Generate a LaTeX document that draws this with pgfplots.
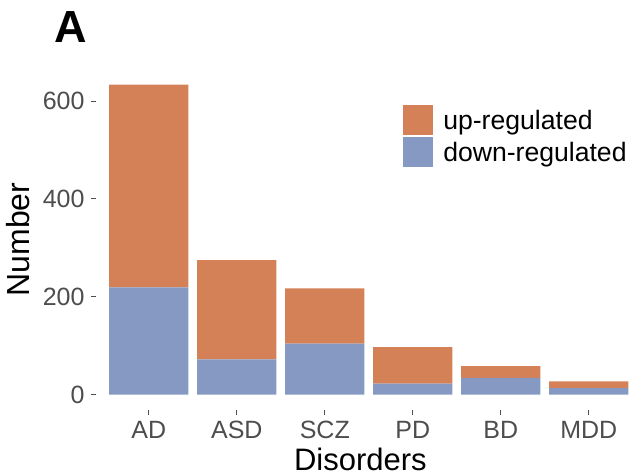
\documentclass[border=0pt]{standalone}
\usepackage{fontspec}
\setmainfont{Liberation Sans}
\usepackage{pgfplots}
\pgfplotsset{compat=1.18}
\definecolor{upc}{RGB}{212,129,88}
\definecolor{downc}{RGB}{134,153,194}
\definecolor{tickgray}{RGB}{77,77,77}
\begin{document}
\begin{tikzpicture}
\path[use as bounding box] (0,0) rectangle (634bp,476bp);
\begin{axis}[
  at={(96bp,66bp)}, anchor=south west,
  scale only axis,
  width=536.8bp, height=341bp,
  ybar stacked,
  bar width=0.9,
  xmin=-0.6, xmax=5.5,
  ymin=-31.7, ymax=665.7,
  xtick={0,1,2,3,4,5},
  xticklabels={AD,ASD,SCZ,PD,BD,MDD},
  ytick={0,200,400,600},
  axis line style={draw=none},
  tick pos=left,
  tick align=outside,
  major tick length=5bp,
  tick style={draw=tickgray, line width=1.1bp},
  /pgf/number format/assume math mode=true,
  ticklabel style={font=\fontsize{25bp}{30bp}\selectfont, text=tickgray},
  xticklabel style={yshift=-3bp},
  yticklabel style={xshift=-3bp},
  xlabel={Disorders},
  ylabel={Number},
  label style={font=\fontsize{32bp}{38bp}\selectfont},
  xlabel style={font=\fontsize{31bp}{36bp}\selectfont, inner sep=0pt, yshift=-5bp, xshift=-4bp},
  ylabel style={yshift=6bp},
  reverse legend,
  legend cell align=left,
  legend style={draw=none, fill=none, at={(0.572,0.894)}, anchor=north west,
    font=\fontsize{26.6bp}{31bp}\selectfont, row sep=2bp, inner sep=0pt,
    nodes={inner xsep=10bp}},
  legend image code/.code={\fill[#1] (0bp,-15bp) rectangle (30bp,15bp);},
]
\addplot[fill=downc, draw=none] coordinates {(0,219) (1,72) (2,104) (3,22) (4,34) (5,13)};
\addlegendentry{down-regulated}
\addplot[fill=upc, draw=none] coordinates {(0,415) (1,203) (2,113) (3,75) (4,24) (5,14)};
\addlegendentry{up-regulated}
\end{axis}
\node[font=\fontsize{45bp}{50bp}\selectfont\bfseries] at (71bp,449bp) {A};
\end{tikzpicture}
\end{document}
